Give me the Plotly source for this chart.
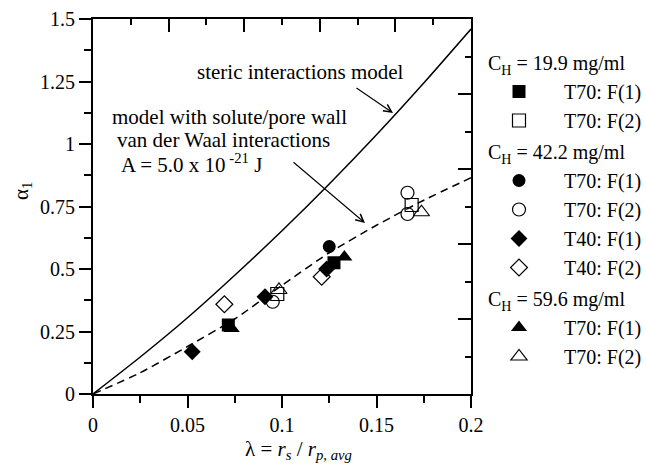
import plotly.graph_objects as go

# ---------------- data ----------------
model_x = [0, 0.025, 0.05, 0.075, 0.1, 0.125, 0.15, 0.175, 0.2]
steric_y = [0, 0.148, 0.305, 0.475, 0.653, 0.84, 1.037, 1.244, 1.46]
vdw_y = [0, 0.085, 0.19, 0.30, 0.435, 0.565, 0.675, 0.775, 0.865]

sq_f_x = [0.0716, 0.1275]
sq_f_y = [0.276, 0.525]
sq_o_x = [0.0975, 0.1686]
sq_o_y = [0.400, 0.756]
ci_f_x = [0.125]
ci_f_y = [0.590]
ci_o_x = [0.0951, 0.1664, 0.1664]
ci_o_y = [0.369, 0.805, 0.720]
di_f_x = [0.0525, 0.0910, 0.1236]
di_f_y = [0.169, 0.389, 0.500]
di_o_x = [0.0695, 0.1210]
di_o_y = [0.359, 0.469]
tr_f_x = [0.0734, 0.1330]
tr_f_y = [0.262, 0.548]
tr_o_x = [0.0984, 0.1738]
tr_o_y = [0.416, 0.727]

group_titles = ["C<sub>H</sub> = 19.9 mg/ml", "C<sub>H</sub> = 42.2 mg/ml", "C<sub>H</sub> = 59.6 mg/ml"]
series_names = ["T70: F(1)", "T70: F(2)", "T70: F(1)", "T70: F(2)", "T40: F(1)", "T40: F(2)", "T70: F(1)", "T70: F(2)"]

x_ticks = [0, 0.05, 0.1, 0.15, 0.2]
x_ticklabels = ["0", "0.05", "0.1", "0.15", "0.2"]
y_ticks = [0, 0.25, 0.5, 0.75, 1, 1.25, 1.5]
y_ticklabels = ["0", "0.25", "0.5", "0.75", "1", "1.25", "1.5"]

# ---------------- figure ----------------
FONT = "Times New Roman, Liberation Serif, serif"
W, H = 646, 464
L, R, T, B = 93, 471, 19, 394  # plot area in pixels

fig = go.Figure()

fig.add_trace(go.Scatter(x=model_x, y=steric_y, mode="lines",
                         line=dict(color="black", width=1.5, shape="spline", smoothing=0.6),
                         showlegend=False, hoverinfo="skip"))
fig.add_trace(go.Scatter(x=model_x, y=vdw_y, mode="lines",
                         line=dict(color="black", width=1.5, dash="8px,5px", shape="spline", smoothing=0.6),
                         showlegend=False, hoverinfo="skip"))

pad = "\u00a0" * 5
series = [
    (sq_f_x, sq_f_y, "square", 13, 0),
    (sq_o_x, sq_o_y, "square-open", 13, 0),
    (ci_f_x, ci_f_y, "circle", 13, 1),
    (ci_o_x, ci_o_y, "circle-open", 13, 1),
    (di_f_x, di_f_y, "diamond", 13, 1),
    (di_o_x, di_o_y, "diamond-open", 13, 1),
    (tr_f_x, tr_f_y, "triangle-up", 14, 2),
    (tr_o_x, tr_o_y, "triangle-up-open", 14, 2),
]
for i, (xs, ys, sym, sz, g) in enumerate(series):
    openm = sym.endswith("open")
    fig.add_trace(go.Scatter(
        x=xs, y=ys, mode="markers", name=pad + series_names[i],
        legendgroup="g%d" % g,
        legendgrouptitle=dict(text=group_titles[g], font=dict(family=FONT, size=20, color="black")),
        marker=dict(symbol=sym, size=sz, color="black",
                    line=dict(color="black", width=1.2 if openm else 0)),
        hoverinfo="skip"))

# dummy trace to anchor mirrored axes
fig.add_trace(go.Scatter(x=[None], y=[None], xaxis="x2", yaxis="y2",
                         showlegend=False, hoverinfo="skip"))

def px_x(p):
    return (p - L) / (R - L)

def px_y(p):
    return (B - p) / (B - T)

def dx(p):
    return (p - L) / (R - L) * 0.2

def dy(p):
    return (B - p) / (B - T) * 1.5

annotations = [
    dict(text="steric interactions model", x=dx(195), y=dy(72), xref="x", yref="y",
         xanchor="left", yanchor="middle", showarrow=False),
    dict(text="model with solute/pore wall", x=dx(110), y=dy(117), xref="x", yref="y",
         xanchor="left", yanchor="middle", showarrow=False),
    dict(text="van der Waal interactions", x=dx(115), y=dy(140), xref="x", yref="y",
         xanchor="left", yanchor="middle", showarrow=False),
    dict(text="A = 5.0 x 10<sup> -21</sup> J", x=dx(119), y=dy(163), xref="x", yref="y",
         xanchor="left", yanchor="middle", showarrow=False),
    dict(text="", x=dx(393), y=dy(113), ax=dx(355), ay=dy(87), xref="x", yref="y",
         axref="x", ayref="y", showarrow=True, arrowhead=5, arrowsize=1.4, arrowwidth=1.1,
         arrowcolor="black"),
    dict(text="", x=dx(365), y=dy(223), ax=dx(292), ay=dy(161), xref="x", yref="y",
         axref="x", ayref="y", showarrow=True, arrowhead=5, arrowsize=1.4, arrowwidth=1.1,
         arrowcolor="black"),
    dict(text="α<sub>1</sub>", x=px_x(22), y=px_y(191), xref="paper", yref="paper",
         textangle=-90, showarrow=False, xanchor="center", yanchor="middle"),
    dict(text="λ = <i>r</i><sub><i>s</i></sub> / <i>r</i><sub><i>p, avg</i></sub>",
         x=px_x(298), y=px_y(450), xref="paper", yref="paper",
         showarrow=False, xanchor="center", yanchor="middle"),
]
for a in annotations:
    a["font"] = dict(family=FONT, size=21, color="black")

axis_common = dict(showgrid=False, zeroline=False, color="black",
                   tickfont=dict(family=FONT, size=20, color="black"))

fig.update_layout(
    width=W, height=H,
    margin=dict(l=L, r=W - R, t=T, b=H - B, pad=0, autoexpand=False),
    paper_bgcolor="white", plot_bgcolor="white",
    font=dict(family=FONT, size=20, color="black"),
    xaxis=dict(range=[0, 0.2], tickvals=x_ticks, ticktext=x_ticklabels,
               ticks="outside", ticklen=12, tickwidth=1.5,
               minor=dict(dtick=0.025, tick0=0, ticks="outside", ticklen=7, tickwidth=1.5, tickcolor="black"),
               showline=True, linewidth=1.8, linecolor="black", mirror=True, **axis_common),
    yaxis=dict(range=[0, 1.5], tickvals=y_ticks, ticktext=y_ticklabels,
               ticks="outside", ticklen=12, tickwidth=1.5,
               minor=dict(dtick=0.125, tick0=0, ticks="outside", ticklen=7, tickwidth=1.5, tickcolor="black"),
               showline=True, linewidth=1.8, linecolor="black", mirror=True, **axis_common),
    xaxis2=dict(range=[0, 0.2], overlaying="x", side="top", anchor="y",
                tick0=0, dtick=0.04, ticks="inside", ticklen=13, tickwidth=1.5,
                minor=dict(dtick=0.02, tick0=0, ticks="inside", ticklen=6, tickwidth=1.5, tickcolor="black"),
                showticklabels=False, showline=False, **axis_common),
    yaxis2=dict(range=[0, 1.5], overlaying="y", side="right", anchor="x",
                tick0=0, dtick=0.3, ticks="inside", ticklen=13, tickwidth=1.5,
                minor=dict(dtick=0.15, tick0=0, ticks="inside", ticklen=6, tickwidth=1.5, tickcolor="black"),
                showticklabels=False, showline=False, **axis_common),
    legend=dict(x=px_x(483), y=px_y(43), xanchor="left", yanchor="top",
                font=dict(family=FONT, size=20, color="black"),
                bgcolor="rgba(0,0,0,0)", tracegroupgap=2, indentation=16,
                itemsizing="trace"),
    annotations=annotations,
    showlegend=True,
)

fig.write_html("out.html")
